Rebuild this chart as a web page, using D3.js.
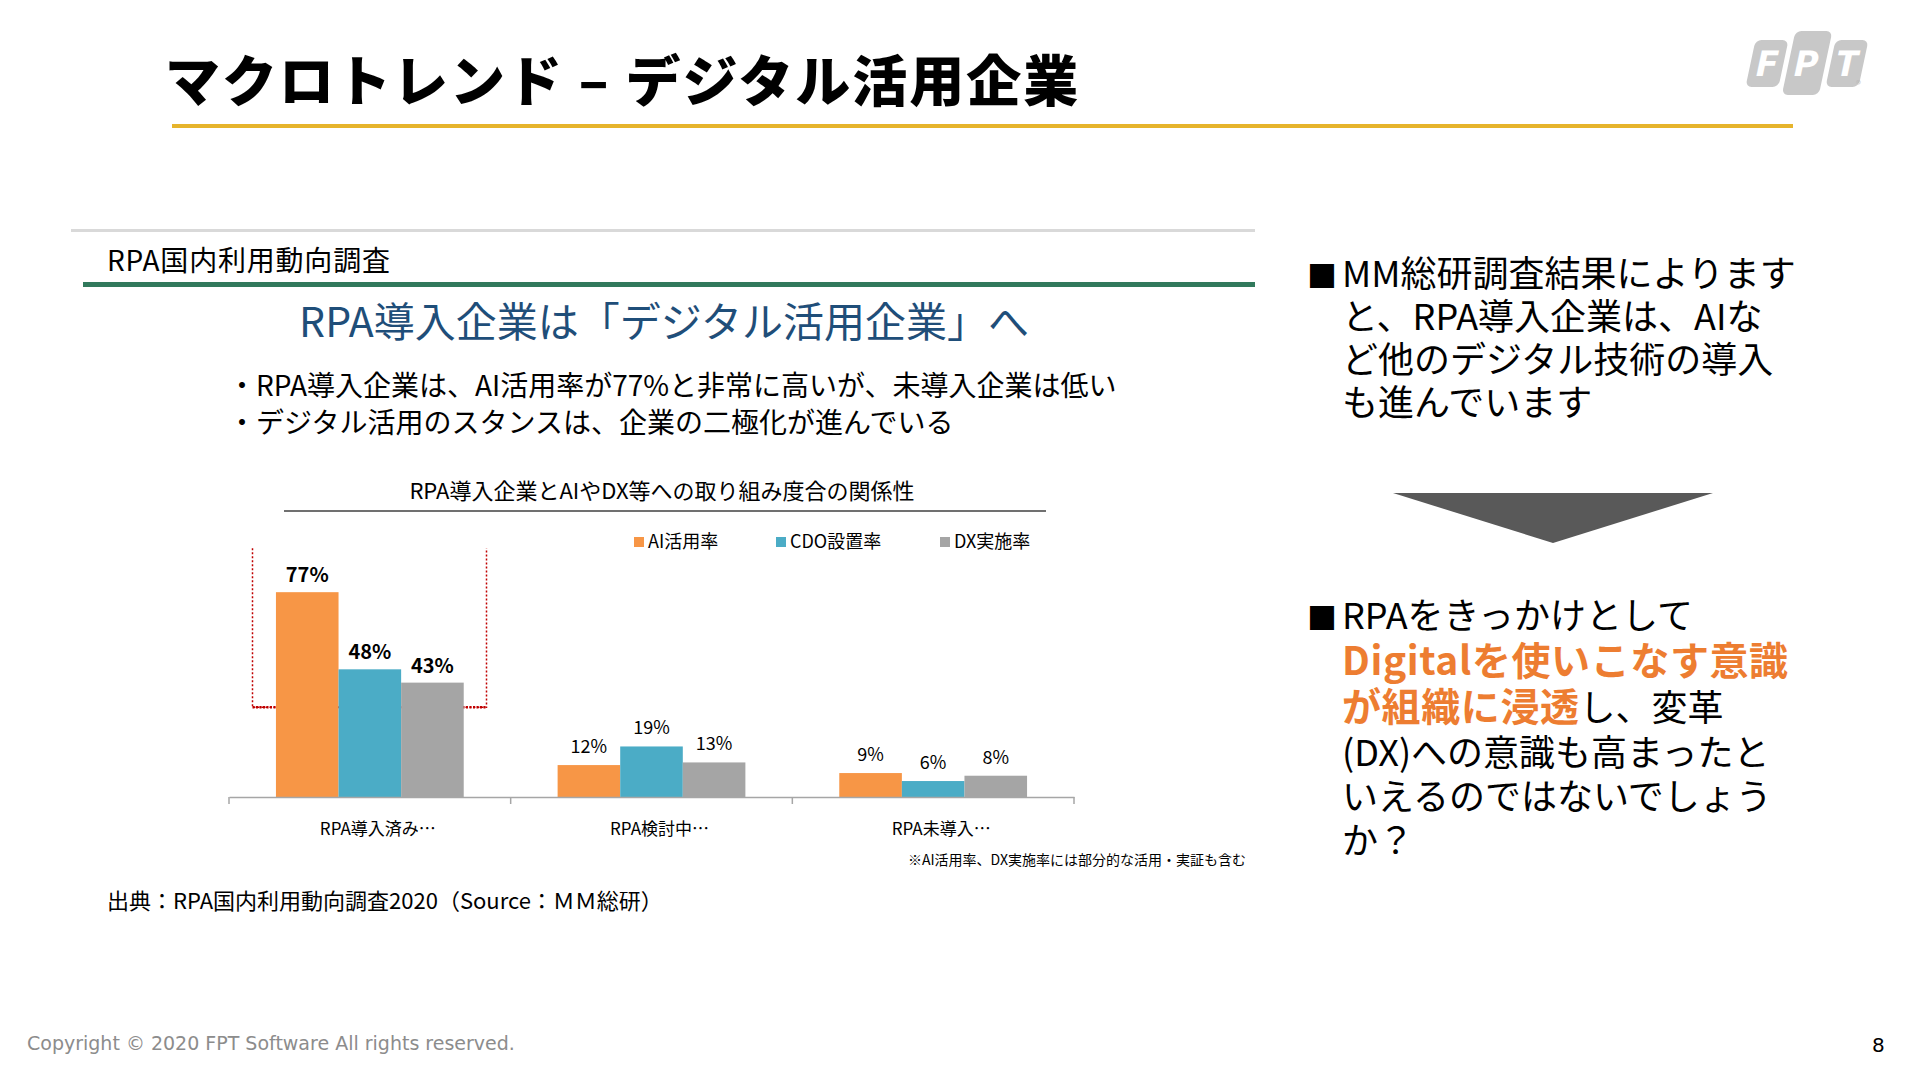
<!DOCTYPE html>
<html>
<head>
<meta charset="utf-8">
<script src="https://cdn.jsdelivr.net/npm/d3@7"></script>
<style>
  html, body { margin: 0; padding: 0; background: #fff; }
  svg { display: block; }
  text { font-family: "Noto Sans CJK JP", "Noto Sans", sans-serif; }
</style>
</head>
<body>
<svg id="slide" width="1920" height="1080"></svg>
<script>
/* chart data */
const categories = ['RPA導入済み…', 'RPA検討中…', 'RPA未導入…'];
const seriesNames = ['AI活用率', 'CDO設置率', 'DX実施率'];
const aiRate = [77, 12, 9];
const cdoRate = [48, 19, 6];
const dxRate = [43, 13, 8];
const seriesColors = ['#F79646', '#4BACC6', '#A5A5A5'];

/* slide texts */
const bullets = [
  '・RPA導入企業は、AI活用率が77%と非常に高いが、未導入企業は低い',
  '・デジタル活用のスタンスは、企業の二極化が進んでいる'
];
const rightLines1 = ['MM総研調査結果によります', 'と、RPA導入企業は、AIな', 'ど他のデジタル技術の導入', 'も進んでいます'];

const svg = d3.select('#slide');

function label(x, y, str, size, opts = {}) {
  return svg.append('text')
    .attr('x', x)
    .attr('y', y)
    .attr('font-size', size)
    .attr('font-weight', opts.weight || 400)
    .attr('fill', opts.fill || '#000')
    .attr('text-anchor', opts.anchor || 'start')
    .attr('letter-spacing', opts.ls || 0)
    .text(str);
}

/* header */
label(165, 101, 'マクロトレンド – デジタル活用企業', 55, { weight: 900, ls: 2 });
svg.append('rect').attr('x', 172).attr('y', 124).attr('width', 1621).attr('height', 4).attr('fill', '#E6B42C');

// FPT logo: three slanted grey blocks with white letters
const logo = svg.append('g').attr('transform', 'translate(1752, 0) skewX(-12)');
const blocks = [
  { x: 12, y: 40, w: 33, h: 47, t: 'F' },
  { x: 50, y: 31, w: 37, h: 64, t: 'P' },
  { x: 92, y: 40, w: 33, h: 47, t: 'T' }
];
blocks.forEach(b => {
  logo.append('rect').attr('x', b.x).attr('y', b.y).attr('width', b.w).attr('height', b.h)
    .attr('rx', 6).attr('fill', '#C8C8C8');
  logo.append('text').attr('x', b.x + b.w / 2).attr('y', 76).attr('text-anchor', 'middle')
    .attr('font-size', 36).attr('font-weight', 900).attr('fill', '#fff')
    .style('font-family', 'Roboto, sans-serif').text(b.t);
});
label(1856, 88, '®', 10, { fill: '#bbb' });

/* left panel */
svg.append('rect').attr('x', 71).attr('y', 229).attr('width', 1184).attr('height', 3).attr('fill', '#D9D9D9');
label(107, 271, 'RPA国内利用動向調査', 28, { ls: 0.8 });
svg.append('rect').attr('x', 83).attr('y', 282).attr('width', 1172).attr('height', 5).attr('fill', '#31795C');
label(664, 337, 'RPA導入企業は「デジタル活用企業」へ', 41, { fill: '#1F4E79', anchor: 'middle' });
bullets.forEach((b, i) => label(228, 396 + i * 37, b, 28));

/* chart */
label(662, 499, 'RPA導入企業とAIやDX等への取り組み度合の関係性', 22, { anchor: 'middle' });
svg.append('line').attr('x1', 284).attr('x2', 1046).attr('y1', 511).attr('y2', 511)
  .attr('stroke', '#404040').attr('stroke-width', 1.5);

const values = [aiRate, cdoRate, dxRate];
const rows = categories.map((c, i) => ({ cat: c, vals: seriesNames.map((s, j) => ({ s, v: values[j][i], j })) }));

const x0 = d3.scaleBand().domain(categories).range([229, 1074]);
const x1 = d3.scaleBand().domain(seriesNames).range([x0.bandwidth() / 6, x0.bandwidth() * 5 / 6]);
const y = d3.scaleLinear().domain([0, 90]).range([797, 557.6]);

// highlight box around the first group (no top edge)
const bx0 = x0(categories[0]) + 23.5, bx1 = x0(categories[0]) + 257.5;
const by0 = y(93.5), by1 = y(33.7);
svg.append('path')
  .attr('d', `M${bx0},${by0}V${by1}H${bx1}V${by0}`)
  .attr('fill', 'none').attr('stroke', '#C00000').attr('stroke-width', 1.5)
  .attr('stroke-dasharray', '2,2');
svg.append('line').attr('x1', bx0).attr('x2', bx1).attr('y1', by1).attr('y2', by1)
  .attr('stroke', '#C00000').attr('stroke-width', 2.5).attr('stroke-dasharray', '2,1.5');

const groups = svg.append('g').selectAll('g').data(rows).enter().append('g')
  .attr('transform', d => `translate(${x0(d.cat)},0)`);

groups.selectAll('rect').data(d => d.vals).enter().append('rect')
  .attr('x', d => x1(d.s))
  .attr('y', d => y(d.v))
  .attr('width', x1.bandwidth())
  .attr('height', d => y(0) - y(d.v))
  .attr('fill', d => seriesColors[d.j]);

groups.each(function (d, gi) {
  d3.select(this).selectAll('text.val').data(d.vals).enter().append('text')
    .attr('class', 'val')
    .attr('x', v => x1(v.s) + x1.bandwidth() / 2)
    .attr('y', v => y(v.v) - (gi === 0 ? 10 : 12))
    .attr('text-anchor', 'middle')
    .attr('font-size', gi === 0 ? 20 : 18)
    .attr('font-weight', gi === 0 ? 700 : 400)
    .text(v => v.v + '%');
});

// category axis
const xAxis = svg.append('g').attr('transform', `translate(0,${y(0)})`)
  .call(d3.axisBottom(x0).tickSize(0).tickPadding(26));
xAxis.select('.domain').attr('stroke', '#A6A6A6').attr('stroke-width', 1.5);
xAxis.selectAll('.tick text').attr('font-size', 17).attr('dx', 8)
  .style('font-family', '"Noto Sans CJK JP", sans-serif').attr('fill', '#000');
const bounds = categories.map(c => x0(c)).concat([x0.range()[1]]);
svg.append('g').selectAll('line').data(bounds).enter().append('line')
  .attr('x1', d => d).attr('x2', d => d).attr('y1', y(0)).attr('y2', y(0) + 7)
  .attr('stroke', '#A6A6A6').attr('stroke-width', 1.5);

// legend
const legendX = [634, 776, 940];
seriesNames.forEach((s, i) => {
  svg.append('rect').attr('x', legendX[i]).attr('y', 537).attr('width', 10).attr('height', 10).attr('fill', seriesColors[i]);
  label(legendX[i] + 14, 548, s, 18);
});

label(1246, 865, '※AI活用率、DX実施率には部分的な活用・実証も含む', 14, { anchor: 'end' });
label(107, 909, '出典：RPA国内利用動向調査2020（Source：ＭＭ総研）', 22);

/* right panel */
label(1307, 287, '■', 30);
rightLines1.forEach((t, i) => label(1342, 287 + i * 43, t, 36));

svg.append('path').attr('d', 'M1393,493L1713,493L1553,543Z').attr('fill', '#595959');

label(1307, 629, '■', 30);
label(1342, 629, 'RPAをきっかけとして', 36);
label(1342, 675, 'Digitalを使いこなす意識', 39, { weight: 700, fill: '#ED7D31', ls: 0.6 });
const mixed = label(1342, 721, '', 36);
mixed.append('tspan').attr('font-weight', 700).attr('fill', '#ED7D31').attr('font-size', 39)
  .attr('letter-spacing', 0.6).text('が組織に浸透');
mixed.append('tspan').text('し、変革');
label(1342, 766, '(DX)への意識も高まったと', 36);
label(1342, 810, 'いえるのではないでしょう', 36);
label(1342, 854, 'か？', 36);

/* footer */
svg.append('text').attr('x', 27).attr('y', 1050).attr('font-size', 19).attr('fill', '#8C8C8C')
  .style('font-family', '"DejaVu Sans", sans-serif').text('Copyright © 2020 FPT Software All rights reserved.');
svg.append('text').attr('x', 1872).attr('y', 1052).attr('font-size', 20).attr('fill', '#000')
  .style('font-family', '"DejaVu Sans", sans-serif').text('8');
</script>
</body>
</html>
